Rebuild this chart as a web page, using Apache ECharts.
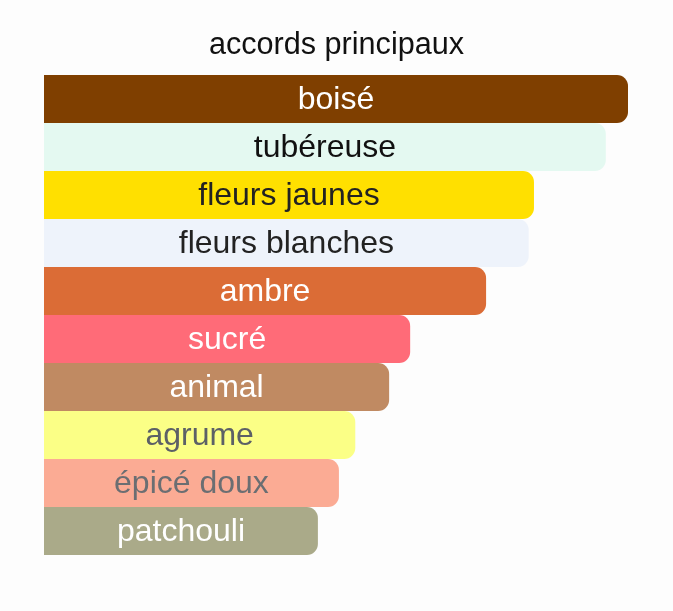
<!DOCTYPE html>
<html>
<head>
<meta charset="utf-8">
<script src="https://cdn.jsdelivr.net/npm/echarts@6/dist/echarts.min.js"></script>
<style>
  html, body { margin: 0; padding: 0; background: #fdfdfd; }
  #main { width: 673px; height: 611px; }
</style>
</head>
<body>
<div id="main"></div>
<script>
var categories = ['boisé', 'tubéreuse', 'fleurs jaunes', 'fleurs blanches', 'ambre', 'sucré', 'animal', 'agrume', 'épicé doux', 'patchouli']
var values = [100, 96.2, 83.9, 83.0, 75.7, 62.7, 59.1, 53.3, 50.5, 46.9]
var barColors = ['#7f3f00', '#e4f9f1', '#ffe000', '#eef3fb', '#db6c36', '#ff6b78', '#c08a62', '#fbff86', '#fbab94', '#aaaa89']
var textColors = ['#ffffff', '#111111', '#222222', '#222222', '#ffffff', '#ffffff', '#ffffff', '#5c6066', '#6b6e72', '#ffffff']

var myChart = echarts.init(document.getElementById('main'))

// one entry per bar, colours
var data = values.map(function (v, i) {
  return {
    value: v,
    name: categories[i],
    itemStyle: { color: barColors[i] },
    label: { color: textColors[i] }
  }
})

var option = {
  backgroundColor: '#fdfdfd',
  animation: false,
  title: {
    text: 'accords principaux',
    left: 'center',
    top: 25,
    textStyle: {
      fontFamily: 'Liberation Sans, Arial, sans-serif',
      fontWeight: 'normal',
      fontSize: 30.6,
      color: '#111111'
    }
  },
  grid: { left: 44, right: 45, top: 75, bottom: 56, containLabel: false },
  xAxis: { type: 'value', min: 0, max: 100, show: false },
  yAxis: {
    type: 'category',
    data: categories,
    inverse: true,
    show: false
  },
  series: [{
    type: 'bar',
    data: data,
    barCategoryGap: 0,
    itemStyle: { borderRadius: [0, 11, 11, 0] },
    label: {
      show: true,
      position: 'inside',
      formatter: '{b}',
      offset: [0, 1],
      fontFamily: 'Liberation Sans, Arial, sans-serif',
      fontSize: 32
    }
  }]
}
myChart.setOption(option)
</script>
</body>
</html>
